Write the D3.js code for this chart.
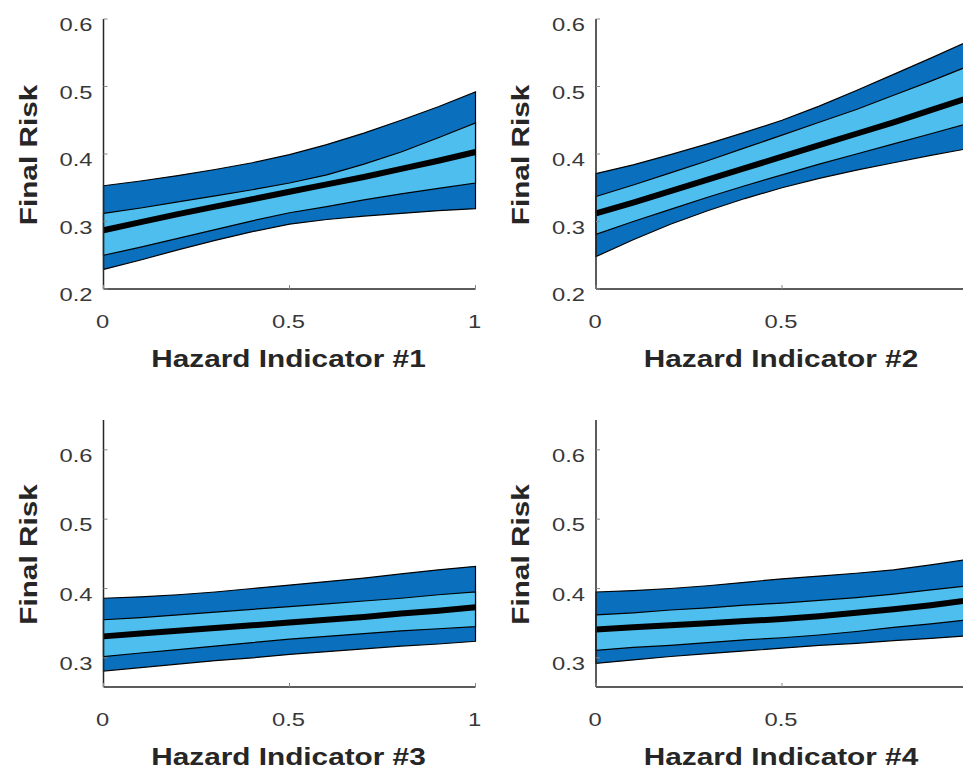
<!doctype html>
<html>
<head>
<meta charset="UTF-8">
<title>Final Risk vs Hazard Indicators</title>
<script src="https://d3js.org/d3.v7.min.js"></script>
<style>
  body { margin: 0; background: #fff; }
  svg { display: block; }
  .tick-lbl { font-family: "Liberation Sans", Arial, sans-serif; font-size: 19px; fill: #383838; }
  .ax-lbl { font-family: "Liberation Sans", Arial, sans-serif; font-size: 24px; font-weight: bold; fill: #262626; }
</style>
</head>
<body>
<div id="chart"></div>
<script>

// x positions of the sampled points
var hazardX = [0, 0.1, 0.2, 0.3, 0.4, 0.5, 0.6, 0.7, 0.8, 0.9, 1];

// panel 1
var p1OuterHi = [0.353, 0.360, 0.368, 0.377, 0.387, 0.399, 0.414, 0.431, 0.450, 0.470, 0.492];
var p1InnerHi = [0.312, 0.320, 0.329, 0.338, 0.347, 0.357, 0.369, 0.385, 0.403, 0.424, 0.446];
var p1Mean    = [0.287, 0.299, 0.311, 0.322, 0.333, 0.344, 0.355, 0.366, 0.378, 0.390, 0.403];
var p1InnerLo = [0.250, 0.262, 0.275, 0.288, 0.301, 0.313, 0.322, 0.332, 0.341, 0.349, 0.357];
var p1OuterLo = [0.229, 0.243, 0.258, 0.272, 0.285, 0.296, 0.303, 0.308, 0.312, 0.316, 0.319];

// panel 2
var p2OuterHi = [0.371, 0.384, 0.399, 0.415, 0.432, 0.450, 0.471, 0.494, 0.518, 0.542, 0.567];
var p2InnerHi = [0.337, 0.354, 0.372, 0.390, 0.409, 0.428, 0.447, 0.466, 0.487, 0.508, 0.530];
var p2Mean    = [0.312, 0.328, 0.345, 0.362, 0.379, 0.396, 0.413, 0.430, 0.447, 0.465, 0.483];
var p2InnerLo = [0.281, 0.300, 0.318, 0.336, 0.353, 0.369, 0.385, 0.400, 0.415, 0.430, 0.445];
var p2OuterLo = [0.248, 0.273, 0.296, 0.316, 0.334, 0.350, 0.364, 0.376, 0.387, 0.398, 0.408];

// panel 3
var p3OuterHi = [0.386, 0.388, 0.391, 0.395, 0.400, 0.405, 0.410, 0.415, 0.421, 0.427, 0.432];
var p3InnerHi = [0.355, 0.358, 0.362, 0.366, 0.370, 0.374, 0.378, 0.382, 0.386, 0.391, 0.395];
var p3Mean    = [0.331, 0.335, 0.339, 0.343, 0.347, 0.351, 0.355, 0.359, 0.364, 0.368, 0.373];
var p3InnerLo = [0.302, 0.307, 0.312, 0.317, 0.322, 0.327, 0.331, 0.335, 0.339, 0.342, 0.345];
var p3OuterLo = [0.281, 0.286, 0.291, 0.296, 0.300, 0.305, 0.309, 0.313, 0.317, 0.320, 0.324];

// panel 4
var p4OuterHi = [0.395, 0.397, 0.400, 0.404, 0.409, 0.414, 0.418, 0.422, 0.427, 0.434, 0.442];
var p4InnerHi = [0.362, 0.365, 0.369, 0.372, 0.376, 0.379, 0.383, 0.387, 0.392, 0.398, 0.404];
var p4Mean    = [0.341, 0.344, 0.347, 0.350, 0.353, 0.356, 0.360, 0.365, 0.370, 0.376, 0.383];
var p4InnerLo = [0.311, 0.315, 0.318, 0.322, 0.326, 0.329, 0.333, 0.338, 0.344, 0.349, 0.355];
var p4OuterLo = [0.292, 0.297, 0.302, 0.306, 0.310, 0.314, 0.318, 0.321, 0.325, 0.328, 0.332];

var xTicks = [0, 0.5, 1];
var xTickLabels = ["0", "0.5", "1"];
var yTicksTop = [0.2, 0.3, 0.4, 0.5, 0.6];
var yTicksBottom = [0.3, 0.4, 0.5, 0.6];
var xTitles = ["Hazard Indicator #1", "Hazard Indicator #2", "Hazard Indicator #3", "Hazard Indicator #4"];
var yTitle = "Final Risk";

var panels = [
  { left: 103.5, top: 19,  bottom: 289, ydom: [0.2, 0.6],     yticks: yTicksTop,    hi: p1OuterHi, ihi: p1InnerHi, mean: p1Mean, ilo: p1InnerLo, lo: p1OuterLo, title: xTitles[0] },
  { left: 596,   top: 19,  bottom: 289, ydom: [0.2, 0.6],     yticks: yTicksTop,    hi: p2OuterHi, ihi: p2InnerHi, mean: p2Mean, ilo: p2InnerLo, lo: p2OuterLo, title: xTitles[1] },
  { left: 103.5, top: 420, bottom: 687, ydom: [0.258, 0.643], yticks: yTicksBottom, hi: p3OuterHi, ihi: p3InnerHi, mean: p3Mean, ilo: p3InnerLo, lo: p3OuterLo, title: xTitles[2] },
  { left: 596,   top: 420, bottom: 687, ydom: [0.258, 0.643], yticks: yTicksBottom, hi: p4OuterHi, ihi: p4InnerHi, mean: p4Mean, ilo: p4InnerLo, lo: p4OuterLo, title: xTitles[3] }
];

var W = 963, H = 774;
var plotW = 372;
var darkBlue = "#0a70bd";
var lightBlue = "#4dbeee";
var axisCol = "#262626";

var svg = d3.select("#chart").append("svg")
    .attr("width", W)
    .attr("height", H);

panels.forEach(function(p) {
  var x = d3.scaleLinear().domain([0, 1]).range([p.left, p.left + plotW]);
  var y = d3.scaleLinear().domain(p.ydom).range([p.bottom, p.top]);
  var g = svg.append("g");

  var rows = hazardX.map(function(v, i) {
    return { x: v, hi: p.hi[i], ihi: p.ihi[i], m: p.mean[i], ilo: p.ilo[i], lo: p.lo[i] };
  });

  var outer = d3.area().x(function(d) { return x(d.x); })
      .y0(function(d) { return y(d.lo); }).y1(function(d) { return y(d.hi); });
  var inner = d3.area().x(function(d) { return x(d.x); })
      .y0(function(d) { return y(d.ilo); }).y1(function(d) { return y(d.ihi); });
  var meanLine = d3.line().x(function(d) { return x(d.x); }).y(function(d) { return y(d.m); });

  g.append("path").datum(rows).attr("d", outer)
    .attr("fill", darkBlue).attr("stroke", "#000").attr("stroke-width", 1.2);
  g.append("path").datum(rows).attr("d", inner)
    .attr("fill", lightBlue).attr("stroke", "#000").attr("stroke-width", 1.2);
  g.append("path").datum(rows).attr("d", meanLine)
    .attr("fill", "none").attr("stroke", "#000").attr("stroke-width", 6);

  // axis lines (box off)
  g.append("line").attr("x1", x(0)).attr("x2", x(1)).attr("y1", p.bottom).attr("y2", p.bottom)
    .attr("stroke", axisCol).attr("stroke-width", 1.5);
  g.append("line").attr("x1", x(0)).attr("x2", x(0)).attr("y1", p.bottom).attr("y2", p.top)
    .attr("stroke", axisCol).attr("stroke-width", 1.5);

  // inward ticks
  g.selectAll(".xt").data(xTicks).enter().append("line")
    .attr("x1", function(d) { return x(d); }).attr("x2", function(d) { return x(d); })
    .attr("y1", p.bottom).attr("y2", p.bottom - 4)
    .attr("stroke", "#888").attr("stroke-width", 1);
  g.selectAll(".yt").data(p.yticks).enter().append("line")
    .attr("x1", x(0)).attr("x2", x(0) + 4)
    .attr("y1", function(d) { return y(d); }).attr("y2", function(d) { return y(d); })
    .attr("stroke", "#888").attr("stroke-width", 1);

  // tick labels (the original font renders wide, hence the x stretch)
  // labels that fall past the right edge of the window are not shown in the source either
  var shownX = xTicks.filter(function(d) { return x(d) + 6 < W; });
  g.selectAll(".xl").data(shownX).enter().append("text")
    .attr("class", "tick-lbl")
    .attr("text-anchor", "middle")
    .attr("transform", function(d) { return "translate(" + (x(d) - 1) + "," + (p.bottom + 39) + ") scale(1.25,1)"; })
    .text(function(d) { return xTickLabels[xTicks.indexOf(d)]; });
  g.selectAll(".yl").data(p.yticks).enter().append("text")
    .attr("class", "tick-lbl")
    .attr("text-anchor", "end")
    .attr("transform", function(d) { return "translate(" + (x(0) - 11) + "," + (y(d) + 12) + ") scale(1.25,1)"; })
    .text(function(d) { return d3.format(".1f")(d); });

  g.append("text").attr("class", "ax-lbl")
    .attr("text-anchor", "middle")
    .attr("transform", "translate(" + (x(0.5) - 1) + "," + (p.bottom + 78) + ") scale(1.24,1)")
    .text(p.title);
  g.append("text").attr("class", "ax-lbl")
    .attr("text-anchor", "middle")
    .attr("transform", "translate(" + (x(0) - 67) + "," + ((p.top + p.bottom) / 2 + 1) + ") rotate(-90) scale(1.24,1)")
    .text(yTitle);
});

</script>
</body>
</html>
